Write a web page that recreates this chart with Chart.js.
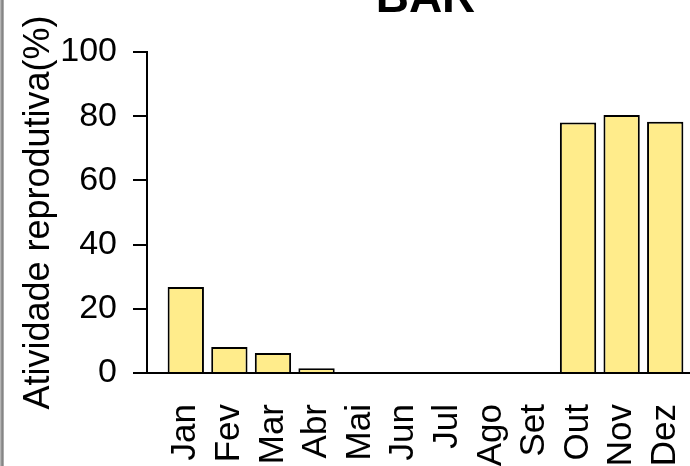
<!DOCTYPE html>
<html>
<head>
<meta charset="utf-8">
<script src="https://cdn.jsdelivr.net/npm/chart.js@4/dist/chart.umd.min.js"></script>
<style>
  html, body { margin: 0; padding: 0; overflow: hidden; background: #fff; width: 690px; height: 466px; }
  #wrap { position: absolute; left: 0; top: -32px; width: 704px; height: 498px; }
  #edge { position: absolute; left: 0; top: 0; width: 4px; height: 466px;
          background: linear-gradient(to right, #c8c8c8, #7a7a7a 55%, #bdbdbd); }
</style>
</head>
<body>
<div id="wrap"><canvas id="barChart"></canvas></div>
<div id="edge"></div>
<script>
// month labels and reproductive activity (%)
var months = ['Jan', 'Fev', 'Mar', 'Abr', 'Mai', 'Jun', 'Jul', 'Ago', 'Set', 'Out', 'Nov', 'Dez'];
var activity = [26.8, 8.1, 6.2, 1.5, 0, 0, 0, 0, 0, 78.0, 80.4, 78.3];
var yTicks = [0, 20, 40, 60, 80, 100];

Chart.defaults.font.family = '"Liberation Sans", Arial, sans-serif';
Chart.defaults.color = '#000';

var points = months.map(function (m, i) {
    return { x: i, y: activity[i] };
});

var ctx = document.getElementById('barChart').getContext('2d');

var barChart = new Chart(ctx, {
    type: 'bar',
    data: {
        datasets: [{
            data: points,
            backgroundColor: '#FFEC8B',
            borderColor: '#000',
            borderWidth: 2,
            borderSkipped: 'start',
            categoryPercentage: 1,
            barPercentage: 1 / 1.2
        }]
    },
    options: {
        responsive: true,
        maintainAspectRatio: false,
        animation: false,
        layout: { padding: 0 },
        plugins: {
            legend: { display: false },
            tooltip: { enabled: false },
            title: {
                display: true,
                text: 'BAR',
                fullSize: false,
                color: '#000',
                font: { size: 46, weight: 'bold' },
                padding: { top: 4, bottom: 24.8 }
            }
        },
        scales: {
            x: {
                type: 'linear',
                bounds: 'data',
                offset: false,
                min: -0.89,
                max: 11.89,
                afterBuildTicks: function (scale) {
                    scale.ticks = months.map(function (m, i) { return { value: i }; });
                },
                grid: { display: false, drawTicks: false, offset: false },
                border: { display: true, color: '#000', width: 2 },
                ticks: {
                    autoSkip: false,
                    minRotation: 90,
                    maxRotation: 90,
                    padding: 31,
                    font: { size: 35 },
                    callback: function (value) {
                        return months[value];
                    }
                },
                afterFit: function (scale) {
                    scale.height = 93;
                    scale.paddingLeft = 0;
                    scale.paddingRight = 0;
                }
            },
            y: {
                min: 0,
                max: 100,
                afterBuildTicks: function (scale) {
                    scale.ticks = yTicks.map(function (v) { return { value: v }; });
                },
                grid: {
                    drawOnChartArea: false,
                    drawTicks: true,
                    tickLength: 14,
                    color: '#000',
                    lineWidth: 2
                },
                border: { display: true, color: '#000', width: 2 },
                ticks: {
                    padding: 16,
                    font: { size: 34 }
                },
                title: {
                    display: true,
                    text: 'Atividade reprodutiva(%)',
                    font: { size: 36 },
                    padding: { top: 17, bottom: 0 }
                },
                afterFit: function (scale) {
                    scale.width = 147;
                }
            }
        }
    }
});
</script>
</body>
</html>
